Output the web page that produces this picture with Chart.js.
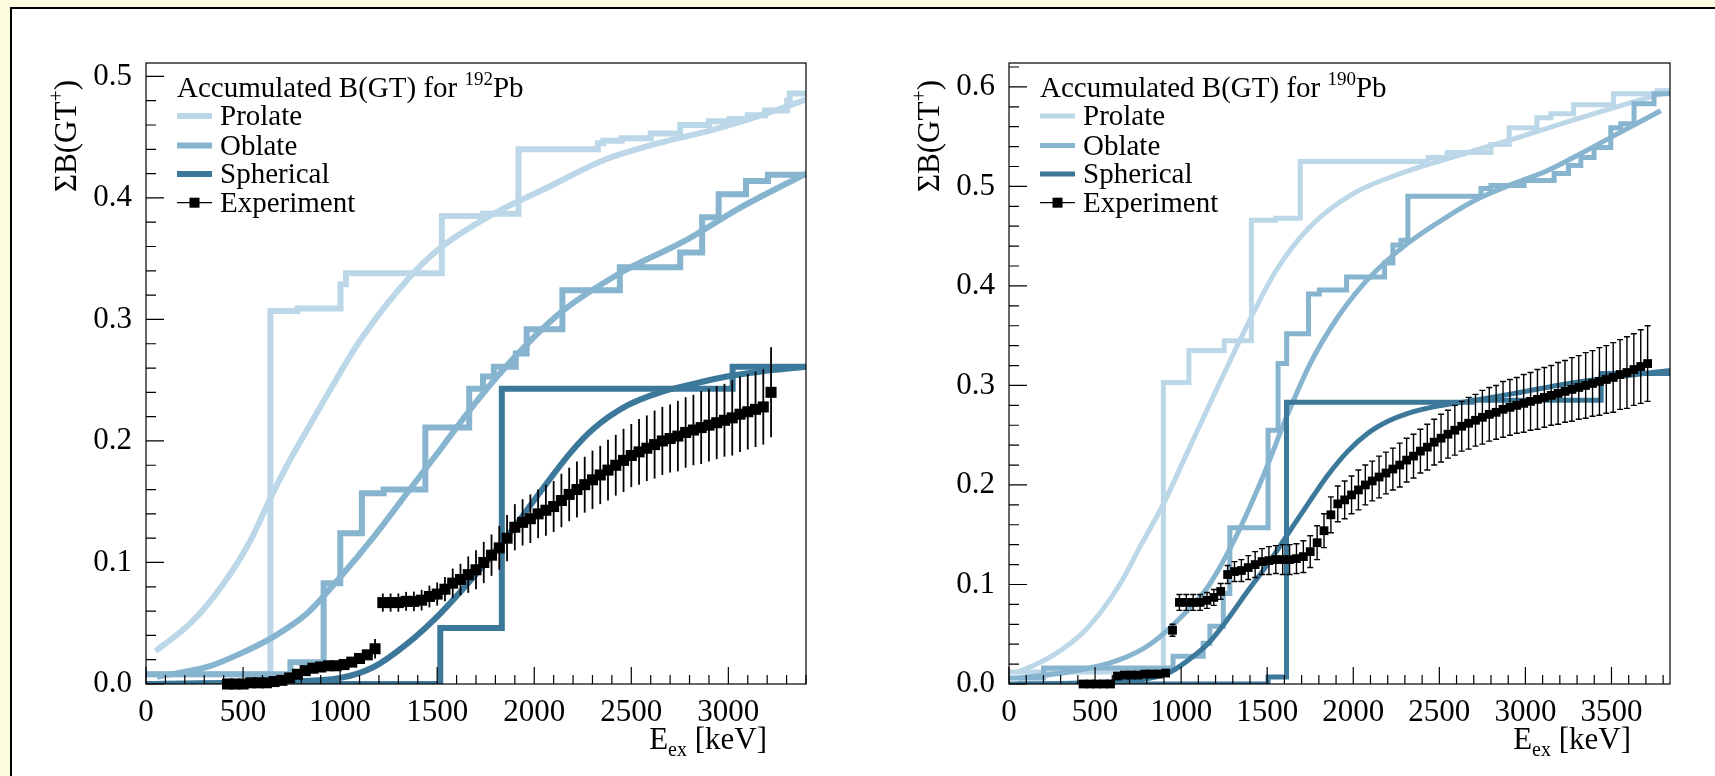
<!DOCTYPE html>
<html>
<head>
<meta charset="utf-8">
<script src="https://cdn.jsdelivr.net/npm/chart.js@4.4.1/dist/chart.umd.min.js"></script>
<style>
  html, body { margin: 0; padding: 0; }
  body { width: 1715px; height: 776px; overflow: hidden; background: #fdfcde; position: relative; }
  #panel { position: absolute; left: 10px; top: 7px; width: 1760px; height: 820px; background: #fff; border: 2px solid #000; }
  canvas { position: absolute; top: 0; }
  #c192 { left: 0; }
  #c190 { left: 860px; }
</style>
</head>
<body>
<div id="panel"></div>
<canvas id="c192" width="860" height="776"></canvas>
<canvas id="c190" width="855" height="776"></canvas>
<script>
// ---- 192Pb (left) ----
const xTicks192 = [0, 500, 1000, 1500, 2000, 2500, 3000];
const yTicks192 = [0, 0.1, 0.2, 0.3, 0.4, 0.5];

const prolStepX192 = [0, 641, 780, 1002, 1030, 1524, 1736, 1919, 2328, 2356, 2450, 2600, 2752, 2900, 3006, 3100, 3189, 3303, 3316, 3400];
const prolStepY192 = [0.008, 0.307, 0.309, 0.329, 0.338, 0.385, 0.387, 0.440, 0.445, 0.447, 0.449, 0.453, 0.460, 0.463, 0.465, 0.468, 0.472, 0.480, 0.486, 0.486];
const prolCurveX192 = [49, 229, 401, 538, 641, 727, 812, 952, 1100, 1354, 1510, 1792, 2074, 2357, 2639, 2921, 3150, 3400];
const prolCurveY192 = [0.027, 0.050, 0.083, 0.118, 0.153, 0.180, 0.204, 0.243, 0.282, 0.334, 0.358, 0.387, 0.409, 0.431, 0.445, 0.456, 0.467, 0.481];

const oblStepX192 = [0, 744, 915, 1001, 1112, 1224, 1439, 1665, 1736, 1792, 1905, 1961, 2145, 2441, 2752, 2865, 2950, 3091, 3204, 3400];
const oblStepY192 = [0.008, 0.018, 0.083, 0.124, 0.157, 0.160, 0.211, 0.243, 0.253, 0.261, 0.272, 0.292, 0.324, 0.343, 0.355, 0.384, 0.403, 0.414, 0.419, 0.419];
const oblCurveX192 = [57, 315, 486, 658, 829, 1001, 1173, 1344, 1516, 1700, 1905, 2131, 2441, 2780, 3062, 3400];
const oblCurveY192 = [0.006, 0.014, 0.025, 0.039, 0.058, 0.088, 0.121, 0.157, 0.193, 0.232, 0.270, 0.305, 0.338, 0.365, 0.392, 0.420];

const sphStepX192 = [0, 1516, 1833, 3022, 3400];
const sphStepY192 = [0, 0.046, 0.243, 0.261, 0.261];
const sphCurveX192 = [50, 700, 1001, 1173, 1344, 1516, 1687, 1859, 2031, 2185, 2305, 2477, 2648, 2820, 2991, 3163, 3400];
const sphCurveY192 = [0, 0.002, 0.005, 0.014, 0.033, 0.058, 0.088, 0.121, 0.158, 0.190, 0.210, 0.229, 0.240, 0.247, 0.253, 0.257, 0.261];

const expX192 = [420, 460, 500, 540, 580, 620, 660, 700, 740, 780,
  820, 860, 900, 940, 980, 1020, 1060, 1100, 1140, 1180,
  1220, 1260, 1300, 1340, 1380, 1420, 1460, 1500, 1540, 1580,
  1620, 1660, 1700, 1740, 1780, 1820, 1860, 1900, 1940, 1980,
  2020, 2060, 2100, 2140, 2180, 2220, 2260, 2300, 2340, 2380,
  2420, 2460, 2500, 2540, 2580, 2620, 2660, 2700, 2740, 2780,
  2820, 2860, 2900, 2940, 2980, 3020, 3060, 3100, 3140, 3180,
  3220];
const expY192 = [0.000, 0.000, 0.000, 0.001, 0.001, 0.001, 0.002, 0.003, 0.005, 0.008,
  0.011, 0.013, 0.014, 0.015, 0.015, 0.016, 0.018, 0.021, 0.024, 0.029,
  0.067, 0.067, 0.067, 0.068, 0.068, 0.069, 0.072, 0.074, 0.078, 0.083,
  0.086, 0.090, 0.094, 0.100, 0.106, 0.112, 0.120, 0.129, 0.133, 0.136,
  0.140, 0.143, 0.146, 0.151, 0.156, 0.160, 0.164, 0.168, 0.172, 0.176,
  0.180, 0.184, 0.188, 0.191, 0.194, 0.197, 0.200, 0.202, 0.204, 0.207,
  0.209, 0.211, 0.213, 0.215, 0.217, 0.219, 0.222, 0.224, 0.226, 0.228,
  0.240];
const expErr192 = [0.002, 0.002, 0.002, 0.002, 0.002, 0.002, 0.002, 0.002, 0.002, 0.002,
  0.002, 0.002, 0.002, 0.002, 0.002, 0.002, 0.002, 0.002, 0.002, 0.008,
  0.0075, 0.0075, 0.0075, 0.0078, 0.008, 0.0085, 0.009, 0.0095, 0.010, 0.012,
  0.013, 0.015, 0.016, 0.017, 0.017, 0.018, 0.019, 0.019, 0.019, 0.020,
  0.020, 0.021, 0.021, 0.022, 0.022, 0.023, 0.023, 0.024, 0.024, 0.025,
  0.025, 0.026, 0.026, 0.027, 0.027, 0.028, 0.028, 0.028, 0.029, 0.029,
  0.029, 0.030, 0.030, 0.030, 0.030, 0.031, 0.031, 0.031, 0.031, 0.031,
  0.037];

// ---- 190Pb (right) ----
const xTicks190 = [0, 500, 1000, 1500, 2000, 2500, 3000, 3500];
const yTicks190 = [0, 0.1, 0.2, 0.3, 0.4, 0.5, 0.6];

const prolStepX190 = [0, 897, 1045, 1250, 1408, 1550, 1692, 2435, 2546, 2800, 2906, 3067, 3148, 3280, 3512, 3766, 3840];
const prolStepY190 = [0.012, 0.303, 0.335, 0.345, 0.466, 0.468, 0.525, 0.529, 0.534, 0.542, 0.559, 0.569, 0.573, 0.582, 0.593, 0.596, 0.596];
const prolCurveX190 = [56, 249, 443, 636, 771, 897, 1042, 1176, 1408, 1550, 1740, 1992, 2309, 2549, 2936, 3322, 3709, 3840];
const prolCurveY190 = [0.012, 0.028, 0.054, 0.098, 0.141, 0.181, 0.235, 0.285, 0.369, 0.415, 0.458, 0.492, 0.515, 0.528, 0.548, 0.569, 0.589, 0.595];

const oblStepX190 = [0, 201, 953, 1128, 1167, 1245, 1283, 1505, 1563, 1613, 1740, 1803, 1961, 2182, 2230, 2277, 2317, 2742, 2800, 2993, 3167, 3250, 3322, 3399, 3496, 3554, 3631, 3747, 3840];
const oblStepY190 = [0.006, 0.016, 0.028, 0.041, 0.058, 0.091, 0.157, 0.255, 0.322, 0.352, 0.392, 0.396, 0.409, 0.423, 0.441, 0.446, 0.490, 0.498, 0.501, 0.506, 0.513, 0.521, 0.529, 0.539, 0.559, 0.563, 0.583, 0.593, 0.593];
const oblCurveX190 = [56, 346, 636, 829, 1022, 1157, 1310, 1467, 1621, 1750, 1900, 2050, 2162, 2317, 2549, 2742, 2935, 3129, 3322, 3515, 3786];
const oblCurveY190 = [0.006, 0.012, 0.024, 0.041, 0.071, 0.098, 0.145, 0.205, 0.272, 0.322, 0.366, 0.400, 0.420, 0.443, 0.470, 0.489, 0.503, 0.516, 0.533, 0.551, 0.576];

const sphStepX190 = [0, 1505, 1612, 2690, 3440, 3840];
const sphStepY190 = [0, 0.007, 0.283, 0.285, 0.312, 0.312];
const sphCurveX190 = [50, 700, 926, 1042, 1158, 1274, 1389, 1505, 1621, 1737, 1853, 1969, 2085, 2201, 2317, 2452, 2700, 2937, 3253, 3500, 3840];
const sphCurveY190 = [0, 0.003, 0.011, 0.024, 0.041, 0.066, 0.094, 0.121, 0.151, 0.181, 0.210, 0.234, 0.252, 0.264, 0.272, 0.278, 0.285, 0.292, 0.302, 0.308, 0.315];

const expX190 = [430, 470, 510, 550, 590, 630, 670, 710, 750, 790,
  830, 870, 910, 950, 990, 1030, 1070, 1110, 1150, 1190,
  1230, 1270, 1310, 1350, 1390, 1430, 1470, 1510, 1550, 1590,
  1630, 1670, 1710, 1750, 1790, 1830, 1870, 1910, 1950, 1990,
  2030, 2070, 2110, 2150, 2190, 2230, 2270, 2310, 2350, 2390,
  2430, 2470, 2510, 2550, 2590, 2630, 2670, 2710, 2750, 2790,
  2830, 2870, 2910, 2950, 2990, 3030, 3070, 3110, 3150, 3190,
  3230, 3270, 3310, 3350, 3390, 3430, 3470, 3510, 3550, 3590,
  3630, 3670, 3710];
const expY190 = [0.000, 0.000, 0.000, 0.000, 0.000, 0.008, 0.009, 0.009, 0.009, 0.010,
  0.010, 0.010, 0.011, 0.054, 0.082, 0.082, 0.082, 0.082, 0.084, 0.087,
  0.093, 0.110, 0.113, 0.114, 0.117, 0.120, 0.123, 0.124, 0.125, 0.125,
  0.125, 0.126, 0.128, 0.133, 0.142, 0.154, 0.170, 0.181, 0.185, 0.190,
  0.195, 0.200, 0.204, 0.208, 0.212, 0.216, 0.220, 0.225, 0.229, 0.234,
  0.238, 0.243, 0.247, 0.251, 0.255, 0.259, 0.262, 0.265, 0.268, 0.271,
  0.273, 0.276, 0.278, 0.280, 0.282, 0.284, 0.286, 0.288, 0.290, 0.292,
  0.294, 0.296, 0.298, 0.300, 0.302, 0.304, 0.306, 0.308, 0.311, 0.313,
  0.316, 0.319, 0.322];
const expErr190 = [0.003, 0.003, 0.003, 0.003, 0.003, 0.003, 0.003, 0.003, 0.003, 0.003,
  0.003, 0.003, 0.003, 0.006, 0.008, 0.008, 0.008, 0.008, 0.008, 0.008,
  0.008, 0.009, 0.010, 0.011, 0.012, 0.013, 0.013, 0.014, 0.014, 0.015,
  0.015, 0.015, 0.016, 0.016, 0.017, 0.017, 0.018, 0.018, 0.019, 0.019,
  0.020, 0.020, 0.020, 0.021, 0.021, 0.021, 0.022, 0.022, 0.022, 0.022,
  0.023, 0.023, 0.024, 0.024, 0.025, 0.025, 0.026, 0.026, 0.027, 0.027,
  0.027, 0.028, 0.028, 0.028, 0.029, 0.029, 0.030, 0.030, 0.030, 0.031,
  0.031, 0.032, 0.032, 0.033, 0.033, 0.034, 0.034, 0.035, 0.035, 0.036,
  0.036, 0.037, 0.038];

const PROLATE = '#bcd7e8';
const OBLATE = '#87b4cf';
const SPHERICAL = '#3b789a';
const SERIF = '"Liberation Serif", "DejaVu Serif", serif';

Chart.defaults.font.family = SERIF;
Chart.defaults.color = '#000';

// text with sub/superscript pieces, drawn left or right aligned from x
function drawRich(ctx, x, y, parts, size, align) {
  const fonts = parts.map(p => ((p.sup || p.sub) ? Math.round(size * 0.64) : size) + 'px ' + SERIF);
  let total = 0;
  const widths = parts.map((p, i) => {
    ctx.font = fonts[i];
    const w = ctx.measureText(p.t).width;
    total += w;
    return w;
  });
  let cx = align === 'right' ? x - total : x;
  parts.forEach((p, i) => {
    ctx.font = fonts[i];
    const dy = p.sup ? -size * 0.42 : (p.sub ? size * 0.24 : 0);
    ctx.fillText(p.t, cx, y + dy);
    cx += widths[i];
  });
}

function makeDecor(s) {
  return {
    id: 'decor',
    afterDatasetsDraw(chart) {
      // error bars of the experiment
      const {ctx, scales: {x, y}} = chart;
      ctx.save();
      ctx.strokeStyle = '#000';
      ctx.lineWidth = s.errW;
      s.expX.forEach((xv, i) => {
        const px = x.getPixelForValue(xv);
        const top = y.getPixelForValue(s.expY[i] + s.expErr[i]);
        const bot = y.getPixelForValue(s.expY[i] - s.expErr[i]);
        ctx.beginPath();
        ctx.moveTo(px, top);
        ctx.lineTo(px, bot);
        if (s.cap) {
          ctx.moveTo(px - s.cap, top); ctx.lineTo(px + s.cap, top);
          ctx.moveTo(px - s.cap, bot); ctx.lineTo(px + s.cap, bot);
        }
        ctx.stroke();
      });
      ctx.restore();
    },
    afterDraw(chart) {
      const {ctx, chartArea: a, scales: {x, y}} = chart;
      ctx.save();
      // frame
      ctx.strokeStyle = '#000';
      ctx.lineWidth = 1.2;
      ctx.strokeRect(a.left, a.top, a.right - a.left, a.bottom - a.top);
      // ticks pointing inward, ROOT style
      ctx.beginPath();
      for (let k = 0; k * 100 <= s.xMax; k++) {
        const px = x.getPixelForValue(k * 100);
        const len = k % 5 === 0 ? 17 : 9;
        ctx.moveTo(px, a.bottom);
        ctx.lineTo(px, a.bottom - len);
      }
      for (let k = 0; k * 0.02 <= s.yMax + 1e-9; k++) {
        const py = y.getPixelForValue(k * 0.02);
        const len = k % 5 === 0 ? 18 : 10;
        ctx.moveTo(a.left, py);
        ctx.lineTo(a.left + len, py);
      }
      ctx.stroke();

      // legend
      const L = a.left, T = a.top;
      ctx.fillStyle = '#000';
      ctx.textAlign = 'left';
      ctx.textBaseline = 'alphabetic';
      drawRich(ctx, L + 31, T + 34, [{t: 'Accumulated B(GT) for '}, {t: s.mass, sup: true}, {t: 'Pb'}], 29);
      const rows = [
        {name: 'Prolate', color: PROLATE, base: T + 62},
        {name: 'Oblate', color: OBLATE, base: T + 91.5},
        {name: 'Spherical', color: SPHERICAL, base: T + 120},
        {name: 'Experiment', color: null, base: T + 148.7}
      ];
      rows.forEach(r => {
        const cy = r.base - 9;
        if (r.color) {
          ctx.strokeStyle = r.color;
          ctx.lineWidth = s.lw;
          ctx.beginPath();
          ctx.moveTo(L + 31, cy);
          ctx.lineTo(L + 66, cy);
          ctx.stroke();
        } else {
          ctx.strokeStyle = '#000';
          ctx.lineWidth = 1.2;
          ctx.beginPath();
          ctx.moveTo(L + 31, cy);
          ctx.lineTo(L + 66, cy);
          ctx.stroke();
          ctx.fillRect(L + 43.5, cy - 5, 10, 10);
        }
        ctx.font = '29px ' + SERIF;
        ctx.fillText(r.name, L + 74, r.base);
      });

      // axis titles
      drawRich(ctx, a.right - 39, a.bottom + 65, [{t: 'E'}, {t: 'ex', sub: true}, {t: ' [keV]'}], 31, 'right');
      ctx.translate(L - 70, T + 17);
      ctx.rotate(-Math.PI / 2);
      drawRich(ctx, 0, 0, [{t: '\u03A3B(GT'}, {t: '+', sup: true}, {t: ')'}], 31, 'right');
      ctx.restore();
    }
  };
}

function pts(xs, ys) {
  return xs.map((v, i) => ({x: v, y: ys[i]}));
}

function buildChart(id, s) {
  const line = (xs, ys, color, extra) => Object.assign({
    data: pts(xs, ys),
    showLine: true,
    borderColor: color,
    borderWidth: s.lw,
    pointRadius: 0,
    fill: false
  }, extra);

  const datasets = [
    {
      label: 'Experiment',
      data: pts(s.expX, s.expY),
      pointStyle: 'rect',
      pointRadius: s.mr,
      backgroundColor: '#000',
      borderWidth: 0,
      showLine: false,
      clip: false
    },
    line(s.sphCurveX, s.sphCurveY, SPHERICAL, {cubicInterpolationMode: 'monotone'}),
    line(s.sphStepX, s.sphStepY, SPHERICAL, {stepped: 'before'}),
    line(s.oblCurveX, s.oblCurveY, OBLATE, {cubicInterpolationMode: 'monotone'}),
    line(s.oblStepX, s.oblStepY, OBLATE, {stepped: 'before'}),
    line(s.prolCurveX, s.prolCurveY, PROLATE, {cubicInterpolationMode: 'monotone'}),
    line(s.prolStepX, s.prolStepY, PROLATE, {stepped: 'before'})
  ];

  return new Chart(document.getElementById(id), {
    type: 'scatter',
    data: {datasets},
    options: {
      responsive: false,
      animation: false,
      devicePixelRatio: 1,
      events: [],
      layout: {padding: {left: 0, top: 63, right: s.padRight, bottom: 0}},
      scales: {
        x: {
          type: 'linear',
          min: 0,
          max: s.xMax,
          grid: {display: false},
          border: {display: false},
          afterBuildTicks: sc => { sc.ticks = s.xTicks.map(v => ({value: v})); },
          afterFit: sc => { sc.height = 92; },
          ticks: {autoSkip: false, maxRotation: 0, padding: 2, color: '#000', font: {size: 31}, callback: v => String(v)}
        },
        y: {
          type: 'linear',
          min: 0,
          max: s.yMax,
          grid: {display: false},
          border: {display: false},
          afterBuildTicks: sc => { sc.ticks = s.yTicks.map(v => ({value: v})); },
          afterFit: sc => { sc.width = s.axisW; },
          ticks: {autoSkip: false, padding: 6, color: '#000', font: {size: 31}, callback: v => v.toFixed(1)}
        }
      },
      plugins: {legend: {display: false}, tooltip: {enabled: false}}
    },
    plugins: [makeDecor(s)]
  });
}

buildChart('c192', {
  mass: '192', xMax: 3400, yMax: 0.511, axisW: 146, padRight: 54, lw: 6, mr: 7.8, errW: 1.8, cap: 0,
  xTicks: xTicks192, yTicks: yTicks192,
  prolStepX: prolStepX192, prolStepY: prolStepY192, prolCurveX: prolCurveX192, prolCurveY: prolCurveY192,
  oblStepX: oblStepX192, oblStepY: oblStepY192, oblCurveX: oblCurveX192, oblCurveY: oblCurveY192,
  sphStepX: sphStepX192, sphStepY: sphStepY192, sphCurveX: sphCurveX192, sphCurveY: sphCurveY192,
  expX: expX192, expY: expY192, expErr: expErr192
});

buildChart('c190', {
  mass: '190', xMax: 3840, yMax: 0.624, axisW: 149, padRight: 45, lw: 5, mr: 6.2, errW: 1.4, cap: 3,
  xTicks: xTicks190, yTicks: yTicks190,
  prolStepX: prolStepX190, prolStepY: prolStepY190, prolCurveX: prolCurveX190, prolCurveY: prolCurveY190,
  oblStepX: oblStepX190, oblStepY: oblStepY190, oblCurveX: oblCurveX190, oblCurveY: oblCurveY190,
  sphStepX: sphStepX190, sphStepY: sphStepY190, sphCurveX: sphCurveX190, sphCurveY: sphCurveY190,
  expX: expX190, expY: expY190, expErr: expErr190
});
</script>
</body>
</html>
